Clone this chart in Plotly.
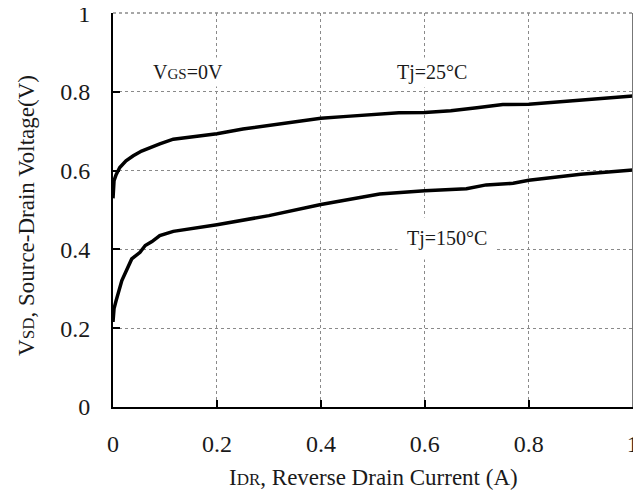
import plotly.graph_objects as go

# Data
x_25 = [0, 0.002, 0.006, 0.013, 0.025, 0.039, 0.055, 0.071, 0.09, 0.116, 0.15, 0.2, 0.25, 0.3,
        0.35, 0.4, 0.45, 0.513, 0.55, 0.6, 0.65, 0.7, 0.75, 0.8, 0.9, 1.0]
y_25 = [0.53, 0.575, 0.59, 0.608, 0.625, 0.638, 0.65, 0.659, 0.668, 0.68, 0.686, 0.694, 0.706, 0.715,
        0.724, 0.733, 0.738, 0.743, 0.747, 0.748, 0.752, 0.76, 0.768, 0.769, 0.78, 0.79]

x_150 = [0, 0.002, 0.006, 0.017, 0.036, 0.045, 0.052, 0.062, 0.075, 0.09, 0.116, 0.2, 0.3, 0.4,
         0.513, 0.6, 0.68, 0.718, 0.77, 0.8, 0.9, 1.0]
y_150 = [0.216, 0.25, 0.27, 0.321, 0.376, 0.385, 0.393, 0.41, 0.42, 0.435, 0.446, 0.463, 0.486, 0.514,
         0.541, 0.549, 0.554, 0.564, 0.568, 0.576, 0.591, 0.602]

x_ticks = [0, 0.2, 0.4, 0.6, 0.8, 1]
x_tick_labels = ["0", "0.2", "0.4", "0.6", "0.8", "1"]
y_ticks = [0, 0.2, 0.4, 0.6, 0.8, 1]
y_tick_labels = ["0", "0.2", "0.4", "0.6", "0.8", "1"]

FONT = "Liberation Serif"
TXT = "#1a1a1a"


def sub(s, size):
    return '<span style="font-size:%dpx">%s</span>' % (size, s)


fig = go.Figure()
fig.add_trace(go.Scatter(x=x_25, y=y_25, mode="lines", line=dict(color="black", width=3.5),
                         showlegend=False))
fig.add_trace(go.Scatter(x=x_150, y=y_150, mode="lines", line=dict(color="black", width=3.5),
                         showlegend=False))

axis_common = dict(
    showgrid=True, gridcolor="#8a8a8a", griddash="dot", gridwidth=1,
    showline=True, linecolor="black", linewidth=2, ticks="inside", ticklen=7,
    tickwidth=2, tickcolor="black", zeroline=False, automargin=False,
    ticklabeloverflow="allow",
    tickfont=dict(family=FONT, size=24, color=TXT),
)

fig.update_xaxes(**axis_common, range=[0, 1.0005], tickvals=x_ticks, ticktext=x_tick_labels,
                 ticklabelstandoff=14)
fig.update_yaxes(**axis_common, range=[0, 1.0005], tickvals=y_ticks, ticktext=y_tick_labels,
                 ticklabelstandoff=16)

# Axis titles (placed as paper annotations)
fig.add_annotation(xref="paper", yref="paper", x=0.5, y=-70 / 394, yanchor="middle",
                   text="I" + sub("DR", 17) + ", Reverse Drain Current (A)", showarrow=False,
                   font=dict(family=FONT, size=23, color=TXT))
fig.add_annotation(xref="paper", yref="paper", x=-86 / 520, y=0.485, xanchor="center",
                   textangle=-90,
                   text="V" + sub("SD", 17) + ", Source-Drain Voltage(V)", showarrow=False,
                   font=dict(family=FONT, size=23, color=TXT))

# top and right border (gray)
fig.add_shape(type="line", xref="paper", yref="paper", x0=0, x1=1, y0=1, y1=1,
              line=dict(color="#8a8a8a", width=1.5, dash="dot"))
fig.add_shape(type="line", xref="paper", yref="paper", x0=1, x1=1, y0=0, y1=1,
              line=dict(color="#777", width=2))

ann_font = dict(family=FONT, size=20, color=TXT)
fig.add_annotation(x=0.145, y=0.85, text="V" + sub("GS", 15) + "=0V", showarrow=False,
                   font=ann_font, bgcolor="white", borderpad=3)
fig.add_annotation(x=0.613, y=0.85, text="Tj=25°C", showarrow=False,
                   font=ann_font, bgcolor="white", borderpad=3)
fig.add_annotation(x=0.643, y=0.429, text="Tj=150°C", showarrow=False,
                   font=ann_font, bgcolor="white", borderpad=9)

# The page has an 8px body margin, so the figure is sized to fit the rest of the window
fig.update_layout(
    width=633, height=482,
    margin=dict(l=105, r=8, t=5, b=83),
    plot_bgcolor="white", paper_bgcolor="white",
)

fig.write_html("out.html")
